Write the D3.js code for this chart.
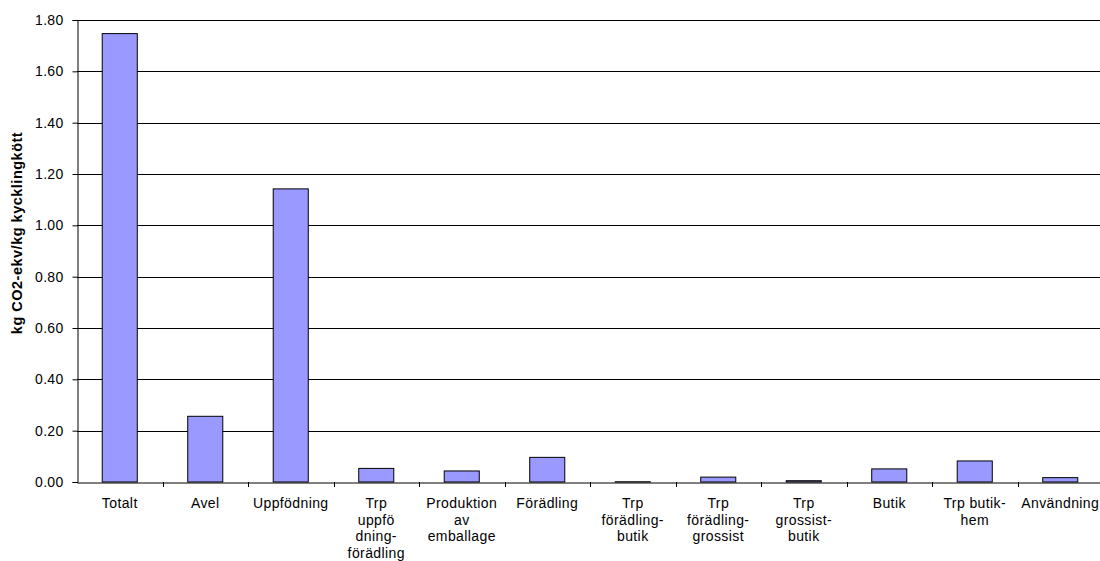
<!DOCTYPE html>
<html>
<head>
<meta charset="utf-8">
<script src="https://cdn.jsdelivr.net/npm/d3@7"></script>
<style>
  body { margin: 0; background: #fff; }
  svg { display: block; font-family: "Liberation Sans", Arial, sans-serif; }
</style>
</head>
<body>
<svg id="chart" width="1100" height="561"></svg>
<script>
// Klimatpåverkan per steg i kedjan, kg CO2-ekv per kg kycklingkött
const categories = [
  ["Totalt"],
  ["Avel"],
  ["Uppfödning"],
  ["Trp", "uppfö", "dning-", "förädling"],
  ["Produktion", "av", "emballage"],
  ["Förädling"],
  ["Trp", "förädling-", "butik"],
  ["Trp", "förädling-", "grossist"],
  ["Trp", "grossist-", "butik"],
  ["Butik"],
  ["Trp butik-", "hem"],
  ["Användning"]
];
const values = [1.747, 0.256, 1.142, 0.053, 0.043, 0.096, 0.001, 0.019, 0.005, 0.051, 0.082, 0.017];
const yTicks = [0, 0.2, 0.4, 0.6, 0.8, 1.0, 1.2, 1.4, 1.6, 1.8];
const yTitle = "kg CO2-ekv/kg kycklingkött";

const svg = d3.select("#chart");
const plotLeft = 77, plotRight = 1103, plotTop = 20, plotBottom = 482;
const fontFamily = "'Liberation Sans', Arial, sans-serif";

const keys = categories.map((c, i) => i);
const x = d3.scaleBand().domain(keys).range([plotLeft, plotRight]).paddingInner(0).paddingOuter(0);
const y = d3.scaleLinear().domain([0, 1.8]).range([plotBottom, plotTop]);

// horisontella stödlinjer
svg.append("g")
  .selectAll("line")
  .data(yTicks.filter(d => d > 0))
  .join("line")
  .attr("x1", plotLeft).attr("x2", plotRight)
  .attr("y1", d => Math.round(y(d)) + 0.5).attr("y2", d => Math.round(y(d)) + 0.5)
  .attr("stroke", "#000").attr("stroke-width", 1);

// staplar
const bw = x.bandwidth() * 0.41;
svg.append("g")
  .selectAll("rect")
  .data(values)
  .join("rect")
  .attr("x", (d, i) => x(i) + (x.bandwidth() - bw) / 2)
  .attr("y", d => y(d))
  .attr("width", bw)
  .attr("height", d => plotBottom - y(d))
  .attr("fill", "#9999ff")
  .attr("stroke", "#000")
  .attr("stroke-width", 1);

// y-axel
const yAxis = d3.axisLeft(y).tickValues(yTicks).tickFormat(d3.format(".2f")).tickSize(5).tickPadding(9);
const gy = svg.append("g").attr("transform", `translate(${plotLeft + 0.5},0)`).call(yAxis);
gy.attr("font-size", null).attr("font-family", null);
gy.select(".domain").attr("stroke", "#000");
gy.selectAll(".tick line").attr("stroke", "#000");
gy.selectAll(".tick text")
  .style("font-size", "14px").style("font-family", fontFamily)
  .style("letter-spacing", "0.3px")
  .attr("fill", "#000");

// x-axel
const xAxis = d3.axisBottom(x).tickSize(0).tickFormat("");
const gx = svg.append("g").attr("transform", `translate(0,${plotBottom + 0.5})`).call(xAxis);
gx.select(".domain").attr("stroke", "#000");
gx.selectAll(".tick").remove();

// avgränsande tickmarkeringar mellan kategorierna
svg.append("g")
  .selectAll("line")
  .data(keys.slice(1))
  .join("line")
  .attr("x1", i => Math.round(x(i)) + 0.5).attr("x2", i => Math.round(x(i)) + 0.5)
  .attr("y1", plotBottom).attr("y2", plotBottom + 5)
  .attr("stroke", "#000");

// kategorietiketter
const labels = svg.append("g")
  .style("font-size", "14px").style("font-family", fontFamily)
  .style("letter-spacing", "0.4px")
  .attr("fill", "#000").attr("text-anchor", "middle");
categories.forEach((lines, i) => {
  const t = labels.append("text")
    .attr("x", x(i) + x.bandwidth() / 2)
    .attr("y", 508);
  lines.forEach((ln, j) => {
    t.append("tspan")
      .attr("x", x(i) + x.bandwidth() / 2)
      .attr("dy", j === 0 ? 0 : 16.7)
      .text(ln);
  });
});

// y-axelns titel
svg.append("text")
  .attr("transform", `translate(22,233) rotate(-90)`)
  .attr("text-anchor", "middle")
  .style("font-size", "14.5px").style("font-weight", "bold").style("font-family", fontFamily)
  .style("letter-spacing", "0.5px")
  .text(yTitle);
</script>
</body>
</html>
